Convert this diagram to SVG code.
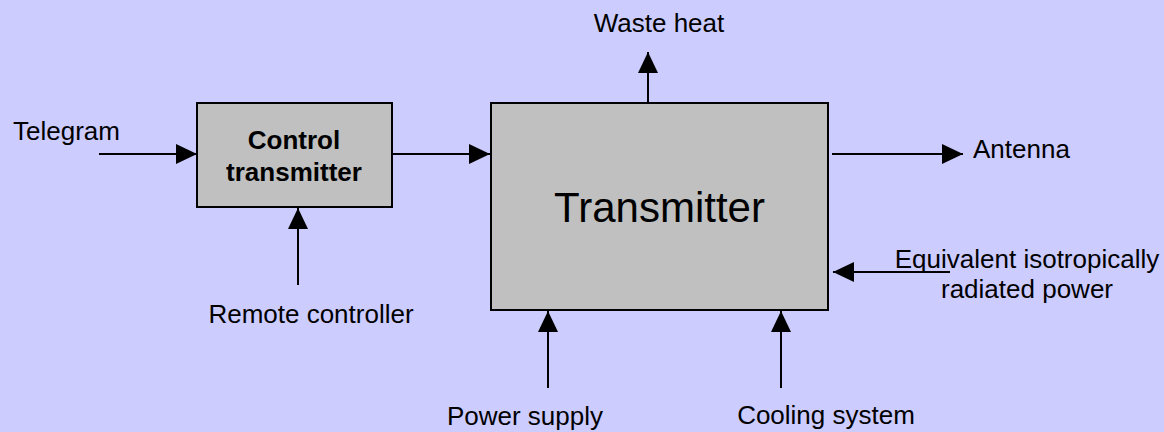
<svg xmlns="http://www.w3.org/2000/svg" width="1164" height="432" viewBox="0 0 1164 432">
<style>
.t{font-family:"Liberation Sans",Arial,sans-serif;font-size:26px;fill:#000}
.b{font-weight:bold}
.box{fill:#C0C0C0;stroke:#000;stroke-width:2}
.c{stroke:#000;stroke-width:2;fill:none}
</style>
<defs>
<marker id="ah" markerWidth="21" markerHeight="20" refX="21" refY="10" orient="auto" markerUnits="userSpaceOnUse">
<path d="M0,0 L21,10 L0,20 Z" fill="#000"/>
</marker>
</defs>
<rect width="1164" height="432" fill="#CCCCFF"/>
<g id="connectors">
<line class="c" x1="99" y1="154" x2="197" y2="154" marker-end="url(#ah)"/>
<line class="c" x1="392" y1="154" x2="490" y2="154" marker-end="url(#ah)"/>
<line class="c" x1="298" y1="285" x2="298" y2="208" marker-end="url(#ah)"/>
<line class="c" x1="648" y1="103" x2="648" y2="52" marker-end="url(#ah)"/>
<line class="c" x1="832" y1="154" x2="963" y2="154" marker-end="url(#ah)"/>
<line class="c" x1="950" y1="272" x2="833" y2="272" marker-end="url(#ah)"/>
<line class="c" x1="548" y1="388" x2="548" y2="311" marker-end="url(#ah)"/>
<line class="c" x1="781" y1="388" x2="781" y2="311" marker-end="url(#ah)"/>
</g>
<g id="control">
<rect class="box" x="197" y="103" width="195" height="104"/>
<text class="t b" x="294" y="149" text-anchor="middle">Control</text>
<text class="t b" x="294" y="181" text-anchor="middle">transmitter</text>
</g>
<g id="transmitter">
<rect class="box" x="491" y="103" width="337" height="207"/>
<text class="t" x="659.5" y="222" text-anchor="middle" style="font-size:42px">Transmitter</text>
</g>
<g id="telegram"><text class="t" x="13" y="140">Telegram</text></g>
<g id="remote"><text class="t" x="311" y="323" text-anchor="middle">Remote controller</text></g>
<g id="waste"><text class="t" x="659" y="32" text-anchor="middle">Waste heat</text></g>
<g id="antenna"><text class="t" x="973" y="158">Antenna</text></g>
<g id="eirp"><text class="t" x="1027" y="268" text-anchor="middle">Equivalent isotropically</text>
<text class="t" x="1027" y="298" text-anchor="middle">radiated power</text></g>
<g id="power"><text class="t" x="525" y="425" text-anchor="middle">Power supply</text></g>
<g id="cooling"><text class="t" x="826" y="424" text-anchor="middle">Cooling system</text></g>
</svg>
